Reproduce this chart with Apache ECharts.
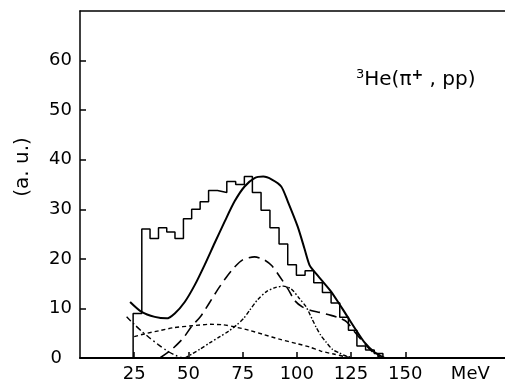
<!DOCTYPE html>
<html><head><meta charset="utf-8">
<script src="https://cdn.jsdelivr.net/npm/echarts@6/dist/echarts.min.js"></script>
<style>html,body{margin:0;padding:0;background:#fff}#c{width:505px;height:383px}</style>
</head><body><div id="c"></div>
<script>
// ---- data ----
const binEdges = [24.5, 28.5, 32.3, 36.2, 40, 43.8, 47.7, 51.5, 55.4, 59.3, 63.4, 67.7, 71.8, 75.8, 79.5, 83.5, 87.6, 91.8, 95.8, 99.8, 103.8, 107.8, 111.8, 115.8, 119.8, 123.8, 127.7, 131.7, 135.7, 139.7];
const histCounts = [9.0, 26.0, 24.1, 26.3, 25.4, 24.1, 28.1, 30.0, 31.5, 33.8, 33.4, 35.6, 35.0, 36.6, 33.4, 29.8, 26.3, 23.0, 18.8, 16.7, 17.6, 15.2, 13.2, 11.1, 8.2, 5.6, 2.4, 1.6, 0.9];

const totalX = [23.1, 28.4, 34.5, 39.9, 43.7, 48.3, 52.9, 57.5, 62.1, 66.7, 71.3, 75.9, 80.5, 84.5, 88.5, 92.8, 95.8, 100.4, 103.5, 105.8, 108.1, 111.8, 115.8, 119.6, 123.4, 127.2, 131.1, 135.7, 140.4];
const totalY = [11.3, 9.3, 8.3, 8.0, 9.0, 11.3, 14.7, 18.8, 23.2, 27.5, 31.6, 34.6, 36.3, 36.6, 36.0, 34.6, 31.6, 26.5, 22.1, 18.8, 17.4, 15.5, 13.4, 10.9, 8.3, 5.7, 3.2, 1.2, 0];

const longDashX = [36.8, 42, 47.6, 51.5, 55.5, 59.5, 63.5, 67.5, 71, 75, 80.5, 85, 88.5, 92, 95.8, 99, 102.5, 106.5, 110.5, 115.8, 120, 123, 126.6, 129.5, 132.7, 135.5, 138.8];
const longDashY = [0, 1.6, 4.0, 6.4, 8.3, 11.0, 13.8, 16.3, 18.2, 19.8, 20.4, 19.8, 18.6, 16.5, 14.0, 11.6, 10.3, 9.6, 9.2, 8.6, 8.0, 7.3, 5.3, 3.8, 2.2, 1.0, 0];

const peakX = [48.3, 52, 55.4, 60, 64.5, 68.5, 72.1, 75.5, 78.2, 82, 86, 90, 93.8, 97.5, 101, 104.3, 107, 108.9, 111, 113.5, 116.5, 119.7, 122, 124.5];
const peakY = [0, 0.9, 1.8, 3.1, 4.3, 5.4, 6.6, 8.0, 9.6, 11.8, 13.4, 14.2, 14.5, 13.9, 12.1, 10.3, 7.9, 6.2, 4.6, 3.2, 1.7, 1.0, 0.5, 0.2];

const broadX = [25, 30, 36.5, 43, 51.8, 60, 66, 71, 78, 85, 92, 100, 106, 111, 117, 122, 126];
const broadY = [4.3, 4.9, 5.5, 6.1, 6.5, 6.8, 6.7, 6.3, 5.6, 4.7, 3.8, 2.9, 2.2, 1.4, 0.8, 0.3, 0];

const lowX = [21.5, 25, 28.4, 32, 36.1, 40, 43.7, 47.6];
const lowY = [8.3, 6.8, 5.4, 4.1, 2.7, 1.5, 0.6, 0];

const xTickValues = [25, 50, 75, 100, 125, 150];
const xUnitLabel = 'MeV';
const xUnitAt = 180;
const yTickValues = [0, 10, 20, 30, 40, 50, 60];
const yAxisTitle = '(a. u.)';
const reactionLabel = '{s|3}He(π{p|+} , pp)';

// ---- build ----
const zip = (xs, ys) => xs.map((x, i) => [x, ys[i]]);
const histPts = [[binEdges[0], 0]];
histCounts.forEach((h, i) => { histPts.push([binEdges[i], h], [binEdges[i + 1], h]); });
histPts.push([binEdges[binEdges.length - 1], 0]);

const FONT = 'DejaVu Sans';
const chart = echarts.init(document.getElementById('c'), null, {renderer: 'canvas'});
const curve = (data, type, width, smooth) => ({
  type: 'line', data, symbol: 'none', smooth: smooth, silent: true,
  lineStyle: {color: '#000', width, type}
});
chart.setOption({
  animation: false,
  backgroundColor: '#fff',
  grid: {left: 80, right: 0, top: 11, bottom: 25},
  xAxis: [{
    type: 'value', min: 0, max: 196, position: 'bottom',
    splitLine: {show: false},
    axisLine: {lineStyle: {color: '#000', width: 2}},
    axisTick: {inside: true, length: 6, customValues: xTickValues, lineStyle: {color: '#000', width: 1.5}},
    axisLabel: {
      customValues: xTickValues.concat([xUnitAt]),
      formatter: v => v === xUnitAt ? xUnitLabel : String(v),
      color: '#000', fontFamily: FONT, fontSize: 18, margin: 7
    }
  }, {
    type: 'value', min: 0, max: 196, position: 'top',
    splitLine: {show: false}, axisTick: {show: false}, axisLabel: {show: false},
    axisLine: {lineStyle: {color: '#000', width: 1.5}}
  }],
  yAxis: {
    type: 'value', min: 0, max: 70,
    splitLine: {show: false},
    axisLine: {show: true, lineStyle: {color: '#000', width: 1.5}},
    axisTick: {inside: true, length: 6, customValues: yTickValues.slice(1), lineStyle: {color: '#000', width: 1.5}},
    axisLabel: {
      customValues: yTickValues,
      formatter: v => v === 0 ? '{z|0}' : String(v),
      rich: {z: {padding: [0, 10, 0, 0], fontFamily: FONT, fontSize: 18, color: '#000'}},
      color: '#000', fontFamily: FONT, fontSize: 18, margin: 8
    }
  },
  graphic: [
    {type: 'text', x: 23, y: 167, rotation: Math.PI / 2,
     style: {text: yAxisTitle, fontFamily: FONT, fontSize: 20, fill: '#000', align: 'center', verticalAlign: 'middle'}},
    {type: 'text', x: 356, y: 80,
     style: {text: reactionLabel, fontFamily: FONT, fontSize: 20, fill: '#000', align: 'left', verticalAlign: 'middle',
       rich: {
         s: {fontSize: 13, fontFamily: FONT, fill: '#000', verticalAlign: 'top', lineHeight: 22},
         p: {fontSize: 14, fontWeight: 'bold', fontFamily: FONT, fill: '#000', padding: [0, 0, 10, 0]}
       }}}
  ],
  series: [
    {type: 'line', data: histPts, symbol: 'none', silent: true, lineStyle: {color: '#000', width: 1.5}},
    curve(zip(totalX, totalY), 'solid', 2, 0.25),
    curve(zip(longDashX, longDashY), [11, 6], 1.6, 0.25),
    curve(zip(peakX, peakY), [4, 2, 1.5, 2], 1.4, 0.25),
    curve(zip(broadX, broadY), [4, 3], 1.4, 0.25),
    curve(zip(lowX, lowY), [6, 3, 1.5, 3], 1.4, 0.25)
  ]
});
</script>
</body></html>
